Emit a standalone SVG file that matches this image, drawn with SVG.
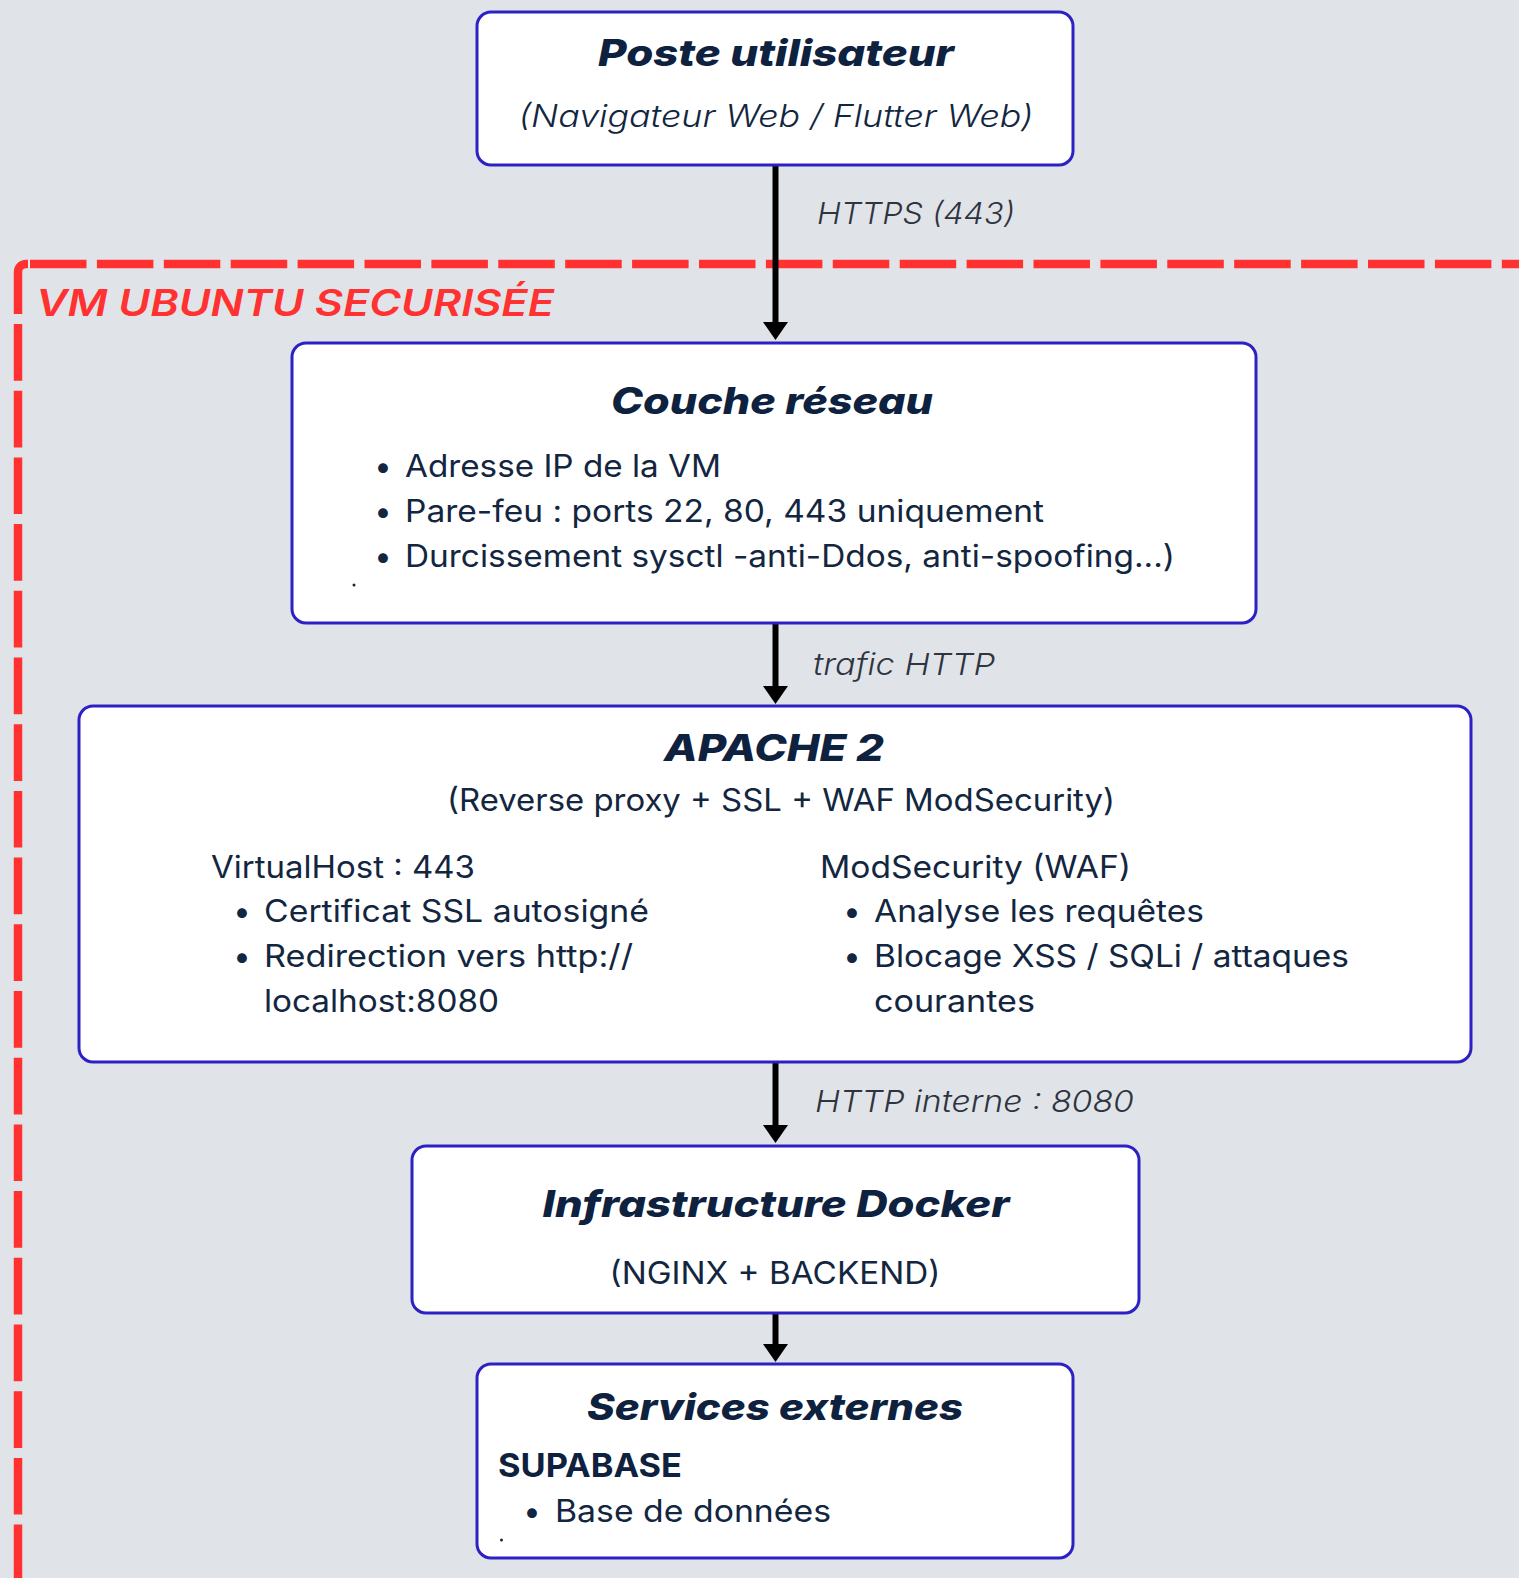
<svg xmlns="http://www.w3.org/2000/svg" width="1519" height="1578" viewBox="0 0 1519 1578">
  <style>
    .bg { fill: #e0e4e8; }
    .box { fill: #ffffff; stroke: #2d20c4; stroke-width: 3; }
    .zone { fill: none; stroke: #ff3131; stroke-width: 8.5; }
    .title { font-family: Inter, "Noto Sans", "DejaVu Sans", sans-serif; font-weight: 800; font-style: italic; font-size: 37px; fill: #0e2240; }
    .sub { font-family: Inter, "Noto Sans", "DejaVu Sans", sans-serif; font-weight: 400; font-size: 31px; fill: #13263f; }
    .subi { font-style: italic; font-weight: 300; }
    .body { font-family: Inter, "Noto Sans", "DejaVu Sans", sans-serif; font-weight: 400; font-size: 31px; fill: #13263f; }
    .head { font-family: Inter, "Noto Sans", "DejaVu Sans", sans-serif; font-weight: 700; font-size: 33px; fill: #0e2240; }
    .lbl { font-family: Inter, "Noto Sans", "DejaVu Sans", sans-serif; font-weight: 300; font-style: italic; font-size: 30px; fill: #2e3440; }
    .zonelbl { font-family: Inter, "Noto Sans", "DejaVu Sans", sans-serif; font-weight: 600; font-style: italic; font-size: 37px; fill: #ff3131; }
    .link { stroke: #000000; stroke-width: 6; fill: none; marker-end: url(#arrow); }
    .speck { fill: #13263f; }
  </style>
  <defs>
    <marker id="arrow" viewBox="0 0 18 25" refX="4" refY="12.5" markerWidth="18" markerHeight="25" markerUnits="userSpaceOnUse" orient="auto">
      <path d="M0,0 L18,12.5 L0,25 z" fill="#000000"/>
    </marker>
  </defs>

  <rect class="bg" x="0" y="0" width="1519" height="1578"/>

  <!-- Secured VM perimeter (dashed, open to the right and bottom) -->
  <g id="vm-zone">
    <path class="zone" d="M30,264 H1540" stroke-dasharray="56.5 10.4"/>
    <path class="zone" d="M28,264 H26 A8,8 0 0 0 18,272 V314"/>
    <path class="zone" d="M18,324 V1600" stroke-dasharray="56.7 10"/>
    <text class="zonelbl" x="36" y="316" textLength="518" lengthAdjust="spacingAndGlyphs">VM UBUNTU SECURISÉE</text>
  </g>

  <!-- Connectors -->
  <g id="connectors">
    <line class="link" x1="775.5" y1="165" x2="775.5" y2="326"/>
    <line class="link" x1="775.5" y1="623" x2="775.5" y2="690"/>
    <line class="link" x1="775.5" y1="1062" x2="775.5" y2="1129"/>
    <line class="link" x1="775.5" y1="1313" x2="775.5" y2="1348"/>
    <text class="lbl" x="817" y="224" textLength="198" lengthAdjust="spacingAndGlyphs">HTTPS (443)</text>
    <text class="lbl" x="813" y="675" textLength="182" lengthAdjust="spacingAndGlyphs">trafic HTTP</text>
    <text class="lbl" x="815" y="1112" textLength="319" lengthAdjust="spacingAndGlyphs">HTTP interne : 8080</text>
  </g>

  <!-- User workstation -->
  <g id="poste-utilisateur">
    <rect class="box" x="477" y="12" width="596" height="153" rx="14"/>
    <text class="title" x="776" y="66" text-anchor="middle" textLength="356" lengthAdjust="spacingAndGlyphs">Poste utilisateur</text>
    <text class="sub subi" x="776" y="127" text-anchor="middle" textLength="515" lengthAdjust="spacingAndGlyphs">(Navigateur Web / Flutter Web)</text>
  </g>

  <!-- Network layer -->
  <g id="couche-reseau">
    <rect class="box" x="292" y="343" width="964" height="280" rx="14"/>
    <text class="title" x="772" y="414" text-anchor="middle" textLength="322" lengthAdjust="spacingAndGlyphs">Couche réseau</text>
    <text class="body" x="383" y="477" text-anchor="middle">•</text>
    <text class="body" x="405" y="477" textLength="316" lengthAdjust="spacingAndGlyphs">Adresse IP de la VM</text>
    <text class="body" x="383" y="522" text-anchor="middle">•</text>
    <text class="body" x="405" y="522" textLength="639" lengthAdjust="spacingAndGlyphs">Pare-feu : ports 22, 80, 443 uniquement</text>
    <text class="body" x="383" y="567" text-anchor="middle">•</text>
    <text class="body" x="405" y="567" textLength="770" lengthAdjust="spacingAndGlyphs">Durcissement sysctl -anti-Ddos, anti-spoofing...)</text>
    <circle class="speck" cx="354" cy="585" r="1.5"/>
  </g>

  <!-- Apache reverse proxy -->
  <g id="apache">
    <rect class="box" x="79" y="706" width="1392" height="356" rx="14"/>
    <text class="title" x="774" y="761" text-anchor="middle" textLength="220" lengthAdjust="spacingAndGlyphs">APACHE 2</text>
    <text class="sub" x="447" y="811" textLength="668" lengthAdjust="spacingAndGlyphs">(Reverse proxy + SSL + WAF ModSecurity)</text>

    <text class="body" x="211" y="878" textLength="264" lengthAdjust="spacingAndGlyphs">VirtualHost : 443</text>
    <text class="body" x="242" y="922" text-anchor="middle">•</text>
    <text class="body" x="264" y="922" textLength="385" lengthAdjust="spacingAndGlyphs">Certificat SSL autosigné</text>
    <text class="body" x="242" y="967" text-anchor="middle">•</text>
    <text class="body" x="264" y="967" textLength="369" lengthAdjust="spacingAndGlyphs">Redirection vers http://</text>
    <text class="body" x="264" y="1012" textLength="235" lengthAdjust="spacingAndGlyphs">localhost:8080</text>

    <text class="body" x="820" y="878" textLength="311" lengthAdjust="spacingAndGlyphs">ModSecurity (WAF)</text>
    <text class="body" x="852" y="922" text-anchor="middle">•</text>
    <text class="body" x="874" y="922" textLength="330" lengthAdjust="spacingAndGlyphs">Analyse les requêtes</text>
    <text class="body" x="852" y="967" text-anchor="middle">•</text>
    <text class="body" x="874" y="967" textLength="475" lengthAdjust="spacingAndGlyphs">Blocage XSS / SQLi / attaques</text>
    <text class="body" x="874" y="1012" textLength="161" lengthAdjust="spacingAndGlyphs">courantes</text>
  </g>

  <!-- Docker infrastructure -->
  <g id="docker">
    <rect class="box" x="412" y="1146" width="727" height="167" rx="14"/>
    <text class="title" x="776" y="1217" text-anchor="middle" textLength="467" lengthAdjust="spacingAndGlyphs">Infrastructure Docker</text>
    <text class="sub" x="775" y="1284" text-anchor="middle" textLength="331" lengthAdjust="spacingAndGlyphs">(NGINX + BACKEND)</text>
  </g>

  <!-- External services -->
  <g id="services-externes">
    <rect class="box" x="477" y="1364" width="596" height="194" rx="14"/>
    <text class="title" x="775" y="1420" text-anchor="middle" textLength="376" lengthAdjust="spacingAndGlyphs">Services externes</text>
    <text class="head" x="498" y="1477" textLength="184" lengthAdjust="spacingAndGlyphs">SUPABASE</text>
    <text class="body" x="532" y="1522" text-anchor="middle">•</text>
    <text class="body" x="555" y="1522" textLength="276" lengthAdjust="spacingAndGlyphs">Base de données</text>
    <circle class="speck" cx="501.5" cy="1540" r="1.5"/>
  </g>
</svg>
